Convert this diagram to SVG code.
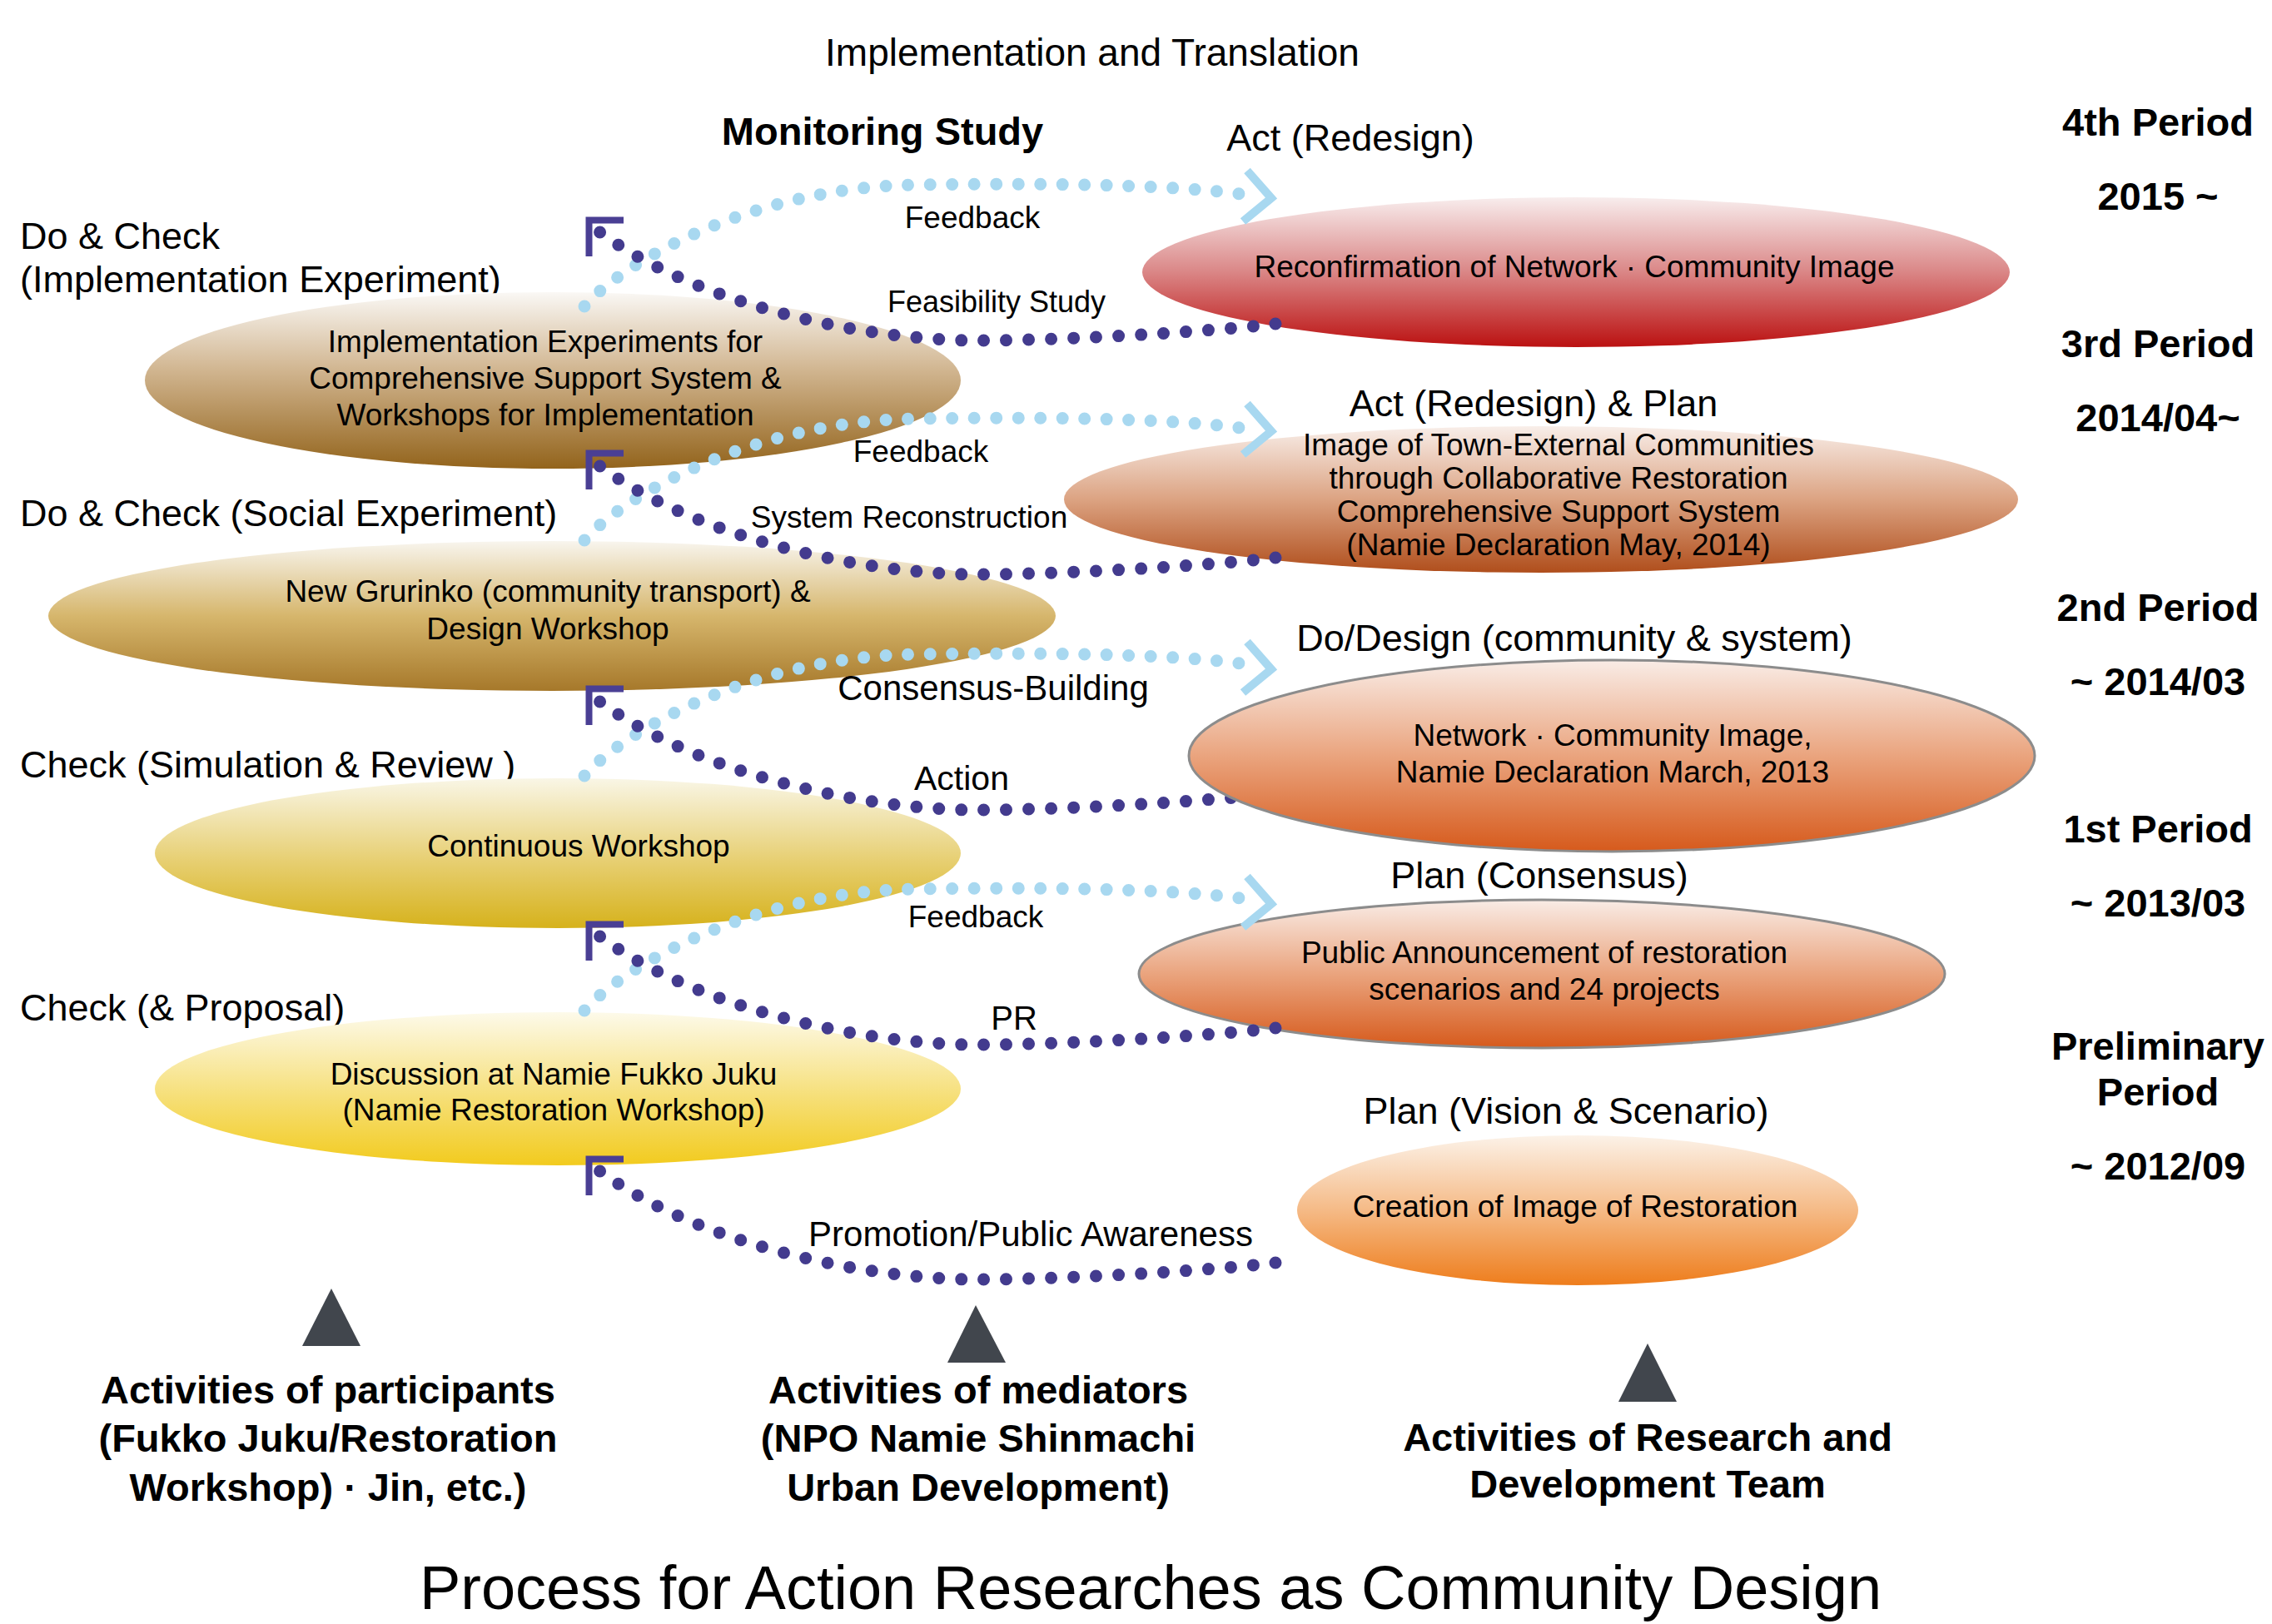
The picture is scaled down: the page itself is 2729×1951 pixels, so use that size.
<svg xmlns="http://www.w3.org/2000/svg" xmlns:xlink="http://www.w3.org/1999/xlink" width="2729" height="1951" viewBox="0 0 2729 1951">
<style>
text{font-family:"Liberation Sans",Arial,sans-serif;fill:#000}
.t45{font-size:45px}
.t37{font-size:37px}
.b47{font-size:47px;font-weight:bold}
.c{text-anchor:middle}
.dark{fill:none;stroke:#433b8e;stroke-width:15;stroke-linecap:round;stroke-dasharray:0 27}
.light{fill:none;stroke:#a8d8f0;stroke-width:15;stroke-linecap:round;stroke-dasharray:0 26.5}
.brk{fill:none;stroke:#4a3f94;stroke-width:8;stroke-linejoin:miter}
.chev{fill:none;stroke:#a8d8f0;stroke-width:10;stroke-linejoin:miter}
.tri{fill:#41464d}
.outl{stroke:#8c8c8c;stroke-width:3}
</style>
<defs>
<linearGradient id="gE1" x1="0" y1="0" x2="0" y2="1"><stop offset="0" stop-color="#faf8f5"/><stop offset="0.45" stop-color="#d0b48e"/><stop offset="1" stop-color="#93641c"/></linearGradient>
<linearGradient id="gE2" x1="0" y1="0" x2="0" y2="1"><stop offset="0" stop-color="#f8f5ee"/><stop offset="0.5" stop-color="#d6b66c"/><stop offset="1" stop-color="#a6782a"/></linearGradient>
<linearGradient id="gE3" x1="0" y1="0" x2="0" y2="1"><stop offset="0" stop-color="#f9f6e6"/><stop offset="0.55" stop-color="#e7cf72"/><stop offset="1" stop-color="#d6b21c"/></linearGradient>
<linearGradient id="gE4" x1="0" y1="0" x2="0" y2="1"><stop offset="0" stop-color="#fdfaea"/><stop offset="0.55" stop-color="#f6df78"/><stop offset="1" stop-color="#f2cb1e"/></linearGradient>
<linearGradient id="gR1" x1="0" y1="0" x2="0" y2="1"><stop offset="0" stop-color="#f8eded"/><stop offset="0.5" stop-color="#da8686"/><stop offset="1" stop-color="#bb1111"/></linearGradient>
<linearGradient id="gR2" x1="0" y1="0" x2="0" y2="1"><stop offset="0" stop-color="#f8eee9"/><stop offset="0.5" stop-color="#dca382"/><stop offset="1" stop-color="#b04e1c"/></linearGradient>
<linearGradient id="gR3" x1="0" y1="0" x2="0" y2="1"><stop offset="0" stop-color="#f9ece6"/><stop offset="0.5" stop-color="#eaa47e"/><stop offset="1" stop-color="#d65a1c"/></linearGradient>
<linearGradient id="gR5" x1="0" y1="0" x2="0" y2="1"><stop offset="0" stop-color="#fcf2e8"/><stop offset="0.5" stop-color="#f5ba86"/><stop offset="1" stop-color="#ee7d1c"/></linearGradient>
<path id="darkPath" class="dark" d="M 1532,389 C 1440,400 1250,410 1160,409 C 1010,405 825,358 718,277"/>
<path id="bracket" class="brk" d="M 707.5,308 V 264.5 H 749"/>
<path id="lightPath" class="light" d="M 702,368 C 745,318 900,225 1100,222 C 1300,219 1440,224 1510,236"/>
<path id="chevron" class="chev" d="M 1498,205 L 1527,238 L 1493,266"/>
</defs>
<rect x="0" y="0" width="2729" height="1951" fill="#ffffff"/>

<g id="headers">
<text class="c" x="1312" y="79" style="font-size:46px">Implementation and Translation</text>
<text class="c" x="1060" y="174" style="font-size:47px;font-weight:bold">Monitoring Study</text>
</g>

<g id="left-labels" class="t45">
<text x="24" y="299">Do &amp; Check</text>
<text x="24" y="351">(Implementation Experiment)</text>
<text x="24" y="632">Do &amp; Check (Social Experiment)</text>
<text x="24" y="934">Check (Simulation &amp; Review )</text>
<text x="24" y="1226">Check (&amp; Proposal)</text>
</g>

<g id="periods" class="b47">
<text class="c" x="2592" y="163">4th Period</text>
<text class="c" x="2592" y="252">2015 ~</text>
<text class="c" x="2592" y="429">3rd Period</text>
<text class="c" x="2592" y="518">2014/04~</text>
<text class="c" x="2592" y="746">2nd Period</text>
<text class="c" x="2592" y="835">~ 2014/03</text>
<text class="c" x="2592" y="1012">1st Period</text>
<text class="c" x="2592" y="1101">~ 2013/03</text>
<text class="c" x="2592" y="1273">Preliminary</text>
<text class="c" x="2592" y="1328">Period</text>
<text class="c" x="2592" y="1417">~ 2012/09</text>
</g>

<g id="node-E1">
<ellipse cx="664" cy="457" rx="490" ry="106" fill="url(#gE1)"/>
<text class="t37 c" x="655" y="423">Implementation Experiments for</text>
<text class="t37 c" x="655" y="467">Comprehensive Support System &amp;</text>
<text class="t37 c" x="655" y="511">Workshops for Implementation</text>
</g>
<g id="node-E2">
<ellipse cx="663" cy="740" rx="605" ry="90" fill="url(#gE2)"/>
<text class="t37 c" x="658" y="723">New Grurinko (community transport) &amp;</text>
<text class="t37 c" x="658" y="768">Design Workshop</text>
</g>
<g id="node-E3">
<ellipse cx="670" cy="1025" rx="484" ry="90" fill="url(#gE3)"/>
<text class="t37 c" x="695" y="1029">Continuous Workshop</text>
</g>
<g id="node-E4">
<ellipse cx="670" cy="1308" rx="484" ry="92" fill="url(#gE4)"/>
<text class="t37 c" x="665" y="1303">Discussion at Namie Fukko Juku</text>
<text class="t37 c" x="665" y="1346">(Namie Restoration Workshop)</text>
</g>

<g id="node-R1">
<text class="t45 c" x="1622" y="181">Act (Redesign)</text>
<ellipse cx="1893" cy="327" rx="521" ry="90" fill="url(#gR1)"/>
<text class="t37 c" x="1891" y="333">Reconfirmation of Network · Community Image</text>
</g>
<g id="node-R2">
<text class="t45 c" x="1842" y="500">Act (Redesign) &amp; Plan</text>
<ellipse cx="1851" cy="600" rx="573" ry="88" fill="url(#gR2)"/>
<text class="t37 c" x="1872" y="547">Image of Town-External Communities</text>
<text class="t37 c" x="1872" y="587">through Collaborative Restoration</text>
<text class="t37 c" x="1872" y="627">Comprehensive Support System</text>
<text class="t37 c" x="1872" y="667">(Namie Declaration May, 2014)</text>
</g>
<g id="node-R4">
<text class="t45 c" x="1849" y="1067">Plan (Consensus)</text>
<ellipse class="outl" cx="1852" cy="1170" rx="484" ry="89" fill="url(#gR3)"/>
<text class="t37 c" x="1855" y="1157">Public Announcement of restoration</text>
<text class="t37 c" x="1855" y="1201">scenarios and 24 projects</text>
</g>
<g id="node-R5">
<text class="t45 c" x="1881" y="1350">Plan (Vision &amp; Scenario)</text>
<ellipse cx="1895" cy="1454" rx="337" ry="90" fill="url(#gR5)"/>
<text class="t37 c" x="1892" y="1462">Creation of Image of Restoration</text>
</g>

<g id="connectors">
<use xlink:href="#lightPath"/>
<use xlink:href="#chevron"/>
<use xlink:href="#lightPath" transform="translate(0,281)"/>
<use xlink:href="#chevron" transform="translate(0,280)"/>
<use xlink:href="#lightPath" transform="translate(0,564)"/>
<use xlink:href="#chevron" transform="translate(0,566)"/>
<use xlink:href="#lightPath" transform="translate(0,846)"/>
<use xlink:href="#chevron" transform="translate(0,848)"/>
<use xlink:href="#darkPath"/>
<use xlink:href="#bracket"/>
<use xlink:href="#darkPath" transform="translate(0,281)"/>
<use xlink:href="#bracket" transform="translate(0,280)"/>
<use xlink:href="#darkPath" transform="translate(0,564)"/>
<use xlink:href="#bracket" transform="translate(0,563)"/>
<use xlink:href="#darkPath" transform="translate(0,846)"/>
<use xlink:href="#bracket" transform="translate(0,846)"/>
<use xlink:href="#darkPath" transform="translate(0,1128)"/>
<use xlink:href="#bracket" transform="translate(0,1128)"/>
<text class="t37 c" x="1168" y="274">Feedback</text>
<text class="c" style="font-size:36px" x="1197" y="375">Feasibility Study</text>
<text class="t37 c" x="1106" y="555">Feedback</text>
<text class="t37 c" x="1092" y="634">System Reconstruction</text>
<text class="c" style="font-size:42px" x="1193" y="841">Consensus-Building</text>
<text class="c" style="font-size:41px" x="1155" y="949">Action</text>
<text class="t37 c" x="1172" y="1114">Feedback</text>
<text class="c" style="font-size:40px" x="1218" y="1237">PR</text>
<text class="c" style="font-size:42px" x="1238" y="1497">Promotion/Public Awareness</text>
</g>

<g id="node-R3">
<text class="t45 c" x="1891" y="782">Do/Design (community &amp; system)</text>
<ellipse class="outl" cx="1936" cy="908" rx="508" ry="115" fill="url(#gR3)"/>
<text class="t37 c" x="1937" y="896">Network · Community Image,</text>
<text class="t37 c" x="1937" y="940">Namie Declaration March, 2013</text>
</g>

<g id="actors">
<polygon class="tri" points="398,1548 363,1617 433,1617"/>
<polygon class="tri" points="1172,1568 1138,1637 1208,1637"/>
<polygon class="tri" points="1979,1614 1944,1684 2014,1684"/>
<text class="b47 c" x="394" y="1686">Activities of participants</text>
<text class="b47 c" x="394" y="1744">(Fukko Juku/Restoration</text>
<text class="b47 c" x="394" y="1803">Workshop) · Jin, etc.)</text>
<text class="b47 c" x="1175" y="1686">Activities of mediators</text>
<text class="b47 c" x="1175" y="1744">(NPO Namie Shinmachi</text>
<text class="b47 c" x="1175" y="1803">Urban Development)</text>
<text class="b47 c" x="1979" y="1743">Activities of Research and</text>
<text class="b47 c" x="1979" y="1799">Development Team</text>
</g>

<text class="c" x="1382" y="1933" style="font-size:74px">Process for Action Researches as Community Design</text>
</svg>
